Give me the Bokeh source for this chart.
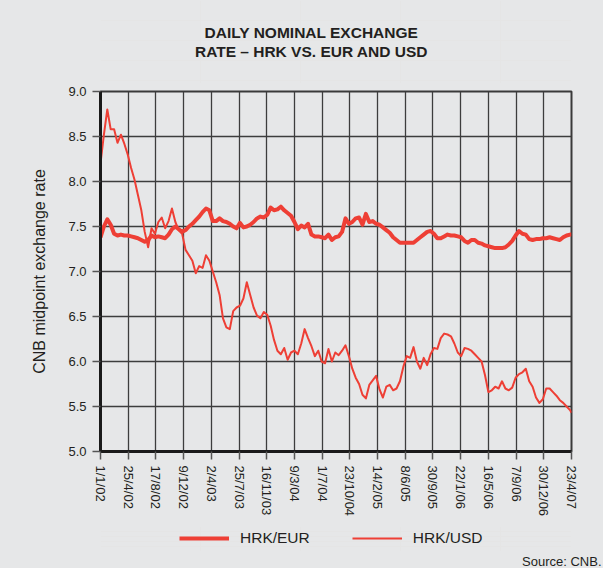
import pandas as pd
from bokeh.plotting import figure
from bokeh.layouts import column
from bokeh.models import Range1d, FixedTicker, PrintfTickFormatter, Label, Legend, LegendItem, Title
from bokeh.embed import file_html
from bokeh.resources import INLINE

# ---- data (one reading every 14 days + last day) ----
start = "2002-01-01"
dates = list(pd.date_range(start, periods=139, freq="14D")) + [pd.Timestamp("2007-04-23")]

hrk_usd = [8.20, 8.52, 8.80, 8.58, 8.58, 8.43, 8.52, 8.42, 8.30, 8.15,
           8.02, 7.85, 7.68, 7.44, 7.27, 7.48, 7.42, 7.55, 7.60, 7.48,
           7.56, 7.70, 7.55, 7.46, 7.42, 7.24, 7.18, 7.12, 6.98, 7.06,
           7.04, 7.18, 7.12, 7.00, 6.88, 6.74, 6.48, 6.38, 6.36, 6.56,
           6.60, 6.62, 6.70, 6.88, 6.74, 6.60, 6.51, 6.48, 6.55, 6.52,
           6.40, 6.24, 6.12, 6.08, 6.15, 6.02, 6.10, 6.12, 6.08, 6.20,
           6.36, 6.26, 6.17, 6.06, 6.12, 6.00, 5.98, 6.14, 6.00, 6.10,
           6.07, 6.12, 6.18, 6.06, 5.92, 5.82, 5.75, 5.63, 5.59, 5.74,
           5.79, 5.84, 5.69, 5.60, 5.72, 5.74, 5.68, 5.70, 5.78, 5.94,
           6.06, 6.04, 6.16, 6.00, 5.92, 6.04, 5.96, 6.08, 6.15, 6.14,
           6.26, 6.31, 6.30, 6.28, 6.20, 6.10, 6.06, 6.15, 6.14, 6.12,
           6.08, 6.04, 6.00, 5.85, 5.66, 5.68, 5.72, 5.70, 5.78, 5.70,
           5.68, 5.71, 5.82, 5.86, 5.88, 5.92, 5.78, 5.72, 5.60, 5.54,
           5.58, 5.70, 5.70, 5.66, 5.62, 5.57, 5.54, 5.50, 5.46, 5.43]

hrk_eur = [7.38, 7.50, 7.58, 7.52, 7.42, 7.40, 7.41, 7.40, 7.40, 7.39,
           7.38, 7.37, 7.35, 7.33, 7.35, 7.40, 7.38, 7.39, 7.38, 7.37,
           7.41, 7.47, 7.50, 7.47, 7.44, 7.46, 7.50, 7.53, 7.57, 7.61,
           7.66, 7.70, 7.68, 7.56, 7.56, 7.59, 7.56, 7.55, 7.53, 7.50,
           7.48, 7.54, 7.49, 7.50, 7.52, 7.55, 7.59, 7.61, 7.60, 7.63,
           7.71, 7.68, 7.69, 7.72, 7.68, 7.65, 7.62, 7.55, 7.47, 7.51,
           7.49, 7.53, 7.41, 7.39, 7.39, 7.38, 7.37, 7.41, 7.35, 7.38,
           7.39, 7.44, 7.59, 7.53, 7.55, 7.59, 7.60, 7.52, 7.64, 7.55,
           7.56, 7.53, 7.52, 7.49, 7.46, 7.43, 7.38, 7.35, 7.32, 7.32,
           7.32, 7.32, 7.32, 7.35, 7.38, 7.41, 7.44, 7.45, 7.42, 7.37,
           7.37, 7.39, 7.41, 7.40, 7.40, 7.39, 7.38, 7.34, 7.32, 7.35,
           7.35, 7.32, 7.31, 7.29, 7.28, 7.27, 7.26, 7.26, 7.26, 7.27,
           7.30, 7.34, 7.40, 7.45, 7.42, 7.41, 7.36, 7.35, 7.36, 7.36,
           7.37, 7.37, 7.38, 7.37, 7.36, 7.35, 7.38, 7.40, 7.41, 7.41]

tick_labels = ["1/1/02", "25/4/02", "17/8/02", "9/12/02", "2/4/03", "25/7/03",
               "16/11/03", "9/3/04", "1/7/04", "23/10/04", "14/2/05", "8/6/05",
               "30/9/05", "22/1/06", "16/5/06", "7/9/06", "30/12/06", "23/4/07"]
y_ticks = [5.0, 5.5, 6.0, 6.5, 7.0, 7.5, 8.0, 8.5, 9.0]

title_lines = ["DAILY NOMINAL EXCHANGE", "RATE \u2013 HRK VS. EUR AND USD"]
y_label = "CNB midpoint exchange rate"
series_names = ["HRK/EUR", "HRK/USD"]
source_text = "Source: CNB."

# ---- derived ----
t0 = pd.Timestamp(start)
x_days = [(d - t0).days for d in dates]
tick_days = [(pd.to_datetime(t, format="%d/%m/%y") - t0).days for t in tick_labels]

FONT = "Liberation Sans"
BG = "#e6e7e8"
RED = "#ee3f35"
INK = "#231f20"
W = 603
LEFT, RIGHT = 100, 32            # frame spans x = 100 .. 571
HEAD_H, MAIN_H = 83, 443
FOOT_H = 568 - HEAD_H - MAIN_H
BG_STYLE = {"background-color": BG}


def blank(h):
    f = figure(width=W, height=h, output_backend="svg", toolbar_location=None, title=None,
               x_range=Range1d(LEFT, W - RIGHT), y_range=Range1d(0, 1),
               x_axis_location=None, y_axis_location=None,
               min_border_left=LEFT, min_border_right=RIGHT,
               min_border_top=0, min_border_bottom=0,
               background_fill_color=BG, border_fill_color=BG, styles=BG_STYLE)
    f.outline_line_color = None
    return f


# ---- header with the title (pixel coordinates, y downward) ----
head = blank(HEAD_H)
head.y_range = Range1d(HEAD_H, 0)
for txt, yy in zip(title_lines, [31.5, 51]):
    head.add_layout(Label(x=311, y=yy, text=txt, text_align="center", text_baseline="alphabetic",
                          text_font=FONT, text_font_style="bold", text_font_size="15.5px",
                          text_color=INK))

# ---- main chart ----
p = figure(width=W, height=MAIN_H, output_backend="svg", toolbar_location=None, title=None,
           x_range=Range1d(tick_days[0], tick_days[-1]), y_range=Range1d(y_ticks[0], y_ticks[-1]),
           min_border_left=LEFT, min_border_right=RIGHT, min_border_top=8, min_border_bottom=75,
           background_fill_color=BG, border_fill_color=BG, styles=BG_STYLE)

p.outline_line_color = "#3a3a3a"
p.outline_line_width = 2

p.xgrid.ticker = FixedTicker(ticks=tick_days)
p.ygrid.ticker = FixedTicker(ticks=y_ticks)
for g in (p.xgrid, p.ygrid):
    g.grid_line_color = "#3d3d3d"
    g.grid_line_width = 1.3

xa = p.xaxis[0]
xa.ticker = FixedTicker(ticks=tick_days)
xa.major_label_overrides = {d: lab for d, lab in zip(tick_days, tick_labels)}
xa.major_label_orientation = "vertical"
xa.major_label_text_font = FONT
xa.major_label_text_font_size = "13px"
xa.major_label_text_color = INK
xa.major_label_standoff = 6
xa.major_tick_out = 8
xa.major_tick_in = 0
xa.major_tick_line_color = "#555555"
xa.major_tick_line_width = 1.5
xa.minor_tick_line_color = None
xa.axis_line_color = "#1a1a1a"
xa.axis_line_width = 3

ya = p.yaxis[0]
ya.ticker = FixedTicker(ticks=y_ticks)
ya.formatter = PrintfTickFormatter(format="%.1f")
ya.major_label_text_font = FONT
ya.major_label_text_font_size = "13px"
ya.major_label_text_color = INK
ya.major_label_standoff = 6
ya.major_tick_out = 8
ya.major_tick_in = 0
ya.major_tick_line_color = "#555555"
ya.major_tick_line_width = 1.5
ya.minor_tick_line_color = None
ya.axis_line_color = "#1a1a1a"
ya.axis_line_width = 3
ya.axis_label = y_label
ya.axis_label_text_font = FONT
ya.axis_label_text_font_size = "16px"
ya.axis_label_text_font_style = "normal"
ya.axis_label_text_color = INK
ya.axis_label_standoff = 17

p.line(x_days, hrk_usd, line_color=RED, line_width=2, line_join="round")
p.line(x_days, hrk_eur, line_color=RED, line_width=4, line_join="round")

# ---- footer with legend and source ----
foot = blank(FOOT_H)
k_eur = foot.line(x_days, hrk_eur, line_color=RED, line_width=4, visible=False)
k_usd = foot.line(x_days, hrk_usd, line_color=RED, line_width=2, visible=False)
legend = Legend(items=[LegendItem(label=series_names[0], renderers=[k_eur]),
                       LegendItem(label=series_names[1], renderers=[k_usd])],
                orientation="horizontal", location=(79, 3),
                glyph_width=50, glyph_height=20, label_height=20,
                label_standoff=11, spacing=42, padding=0, margin=0,
                border_line_color=None, background_fill_alpha=0,
                inactive_fill_alpha=0,
                label_text_font=FONT, label_text_font_size="15.5px", label_text_color=INK)
foot.add_layout(legend)
foot.add_layout(Title(text=source_text, align="right", offset=-30, standoff=0,
                      text_font=FONT, text_font_size="13px", text_font_style="normal",
                      text_color=INK), "below")

layout = column(head, p, foot, spacing=0, styles=BG_STYLE)
open("out.html", "w").write(file_html(layout, INLINE))
